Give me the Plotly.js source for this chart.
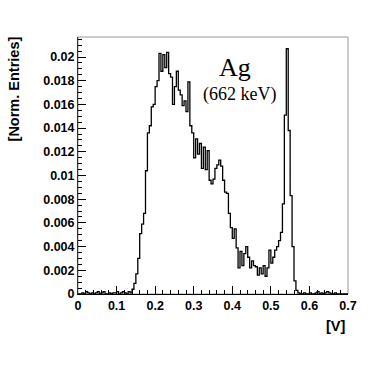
<!DOCTYPE html>
<html>
<head>
<meta charset="utf-8">
<script src="https://cdn.plot.ly/plotly-3.0.1.min.js"></script>
<style>
  html, body { margin: 0; padding: 0; background: #fff; }
  #GraphAg { width: 388px; height: 368px; }
</style>
</head>
<body>
<div id="GraphAg"></div>
<script>
"use strict";

/******************************** Histogram Data *********************************/

var binLow = 0;          // left edge of first bin [V]
var binWidth = 0.005;    // bin width [V]

// normalised entries per bin, 0 .. 0.7 V
var entries = [
  0, 0, 0.0001, 0, 0.0002, 0.0001, 0, 0.0001, 0, 0.0001,
  0.0002, 0, 0.0001, 0.0002, 0, 0, 0.0001, 0, 0.0001, 0.0001,
  0.0002, 0, 0.0001, 0.0002, 0.0001, 0, 0.0002, 0.0001, 0.0004, 0.0009,
  0.0017, 0.0030, 0.0051, 0.0059, 0.0068, 0.0104, 0.0136, 0.0142, 0.0158, 0.0160,
  0.0175, 0.0180, 0.0203, 0.0188, 0.0202, 0.0191, 0.0204, 0.0186, 0.0183, 0.0160,
  0.0175, 0.0188, 0.0172, 0.0168, 0.0159, 0.0163, 0.0154, 0.0179, 0.0142, 0.0136,
  0.0115, 0.0131, 0.0118, 0.0127, 0.0106, 0.0124, 0.0105, 0.0121, 0.0096, 0.0093,
  0.0097, 0.0106, 0.0109, 0.0113, 0.0108, 0.0096, 0.0086, 0.0085, 0.0068, 0.0056,
  0.0047, 0.0055, 0.0039, 0.0022, 0.0036, 0.0024, 0.0034, 0.0040, 0.0031, 0.0022,
  0.0028, 0.0024, 0.0023, 0.0016, 0.0022, 0.0017, 0.0024, 0.0015, 0.0022, 0.0037,
  0.0026, 0.0031, 0.0037, 0.0040, 0.0045, 0.0052, 0.0076, 0.0151, 0.0207, 0.0138,
  0.0083, 0.0040, 0.0011, 0.0003, 0.0001, 0, 0, 0.0001, 0, 0,
  0.0001, 0, 0, 0.0001, 0.0002, 0, 0.0001, 0, 0.0001, 0.0002,
  0.0001, 0, 0, 0.0001, 0, 0, 0, 0, 0, 0
];

var labelSource = 'Ag';
var labelEnergy = '(662 keV)';
var xTitle = '[V]';
var yTitle = '[Norm. Entries]';

/******* step outline from bin edges *******/

var edges = entries.map(function (v, i) { return binLow + i * binWidth; });
edges.push(binLow + entries.length * binWidth);
var levels = entries.concat([entries[entries.length - 1]]);

var data = [
  {
    x: edges,
    y: levels,
    type: 'scatter',
    mode: 'lines',
    line: { shape: 'hv', color: '#000', width: 1.3 },
    hoverinfo: 'skip'
  }
];

var tickFont = { family: 'Liberation Sans, Arial, sans-serif', size: 12.5, color: '#000', weight: 700 };

var layout = {
  width: 388,
  height: 368,
  margin: { l: 78, r: 40, t: 37, b: 74 },
  paper_bgcolor: '#fff',
  plot_bgcolor: '#fff',
  showlegend: false,
  xaxis: {
    range: [0, 0.7],
    dtick: 0.1,
    tick0: 0,
    ticks: 'inside',
    ticklen: 8,
    tickcolor: '#000',
    showline: true,
    linecolor: '#000',
    linewidth: 1,
    showgrid: false,
    zeroline: false,
    tickfont: tickFont,
    minor: { dtick: 0.02, ticks: 'inside', ticklen: 4, tickcolor: '#000', showgrid: false }
  },
  yaxis: {
    range: [0, 0.02169],
    dtick: 0.002,
    tick0: 0,
    ticks: 'inside',
    ticklen: 8,
    tickcolor: '#000',
    showline: true,
    linecolor: '#333',
    linewidth: 1,
    showgrid: false,
    zeroline: false,
    tickfont: tickFont,
    minor: { dtick: 0.0005, ticks: 'inside', ticklen: 4, tickcolor: '#000', showgrid: false }
  },
  shapes: [                                             /****** gray frame ******/
    { type: 'rect', xref: 'paper', yref: 'paper', x0: 0, y0: 0, x1: 1, y1: 1,
      line: { color: '#999', width: 1 }, layer: 'below' }
  ],
  annotations: [
    { text: labelSource, xref: 'paper', yref: 'paper', x: 0.581, y: 0.882,
      showarrow: false, xanchor: 'center', yanchor: 'middle',
      font: { family: 'Liberation Serif, Times New Roman, serif', size: 26, color: '#000' } },
    { text: labelEnergy, xref: 'paper', yref: 'paper', x: 0.598, y: 0.775,
      showarrow: false, xanchor: 'center', yanchor: 'middle',
      font: { family: 'Liberation Serif, Times New Roman, serif', size: 18, color: '#000' } },
    { text: yTitle, xref: 'paper', yref: 'paper', x: -0.236, y: 0.797,
      showarrow: false, xanchor: 'center', yanchor: 'middle', textangle: -90,
      font: { family: 'Liberation Sans, Arial, sans-serif', size: 14.5, color: '#000', weight: 700 } },
    { text: xTitle, xref: 'paper', yref: 'paper', x: 1, y: -0.125,
      showarrow: false, xanchor: 'right', yanchor: 'middle',
      font: { family: 'Liberation Sans, Arial, sans-serif', size: 14.5, color: '#000', weight: 700 } }
  ]
};

Plotly.newPlot('GraphAg', data, layout, { staticPlot: true, displayModeBar: false });     /****** plot graph ******/
</script>
</body>
</html>
